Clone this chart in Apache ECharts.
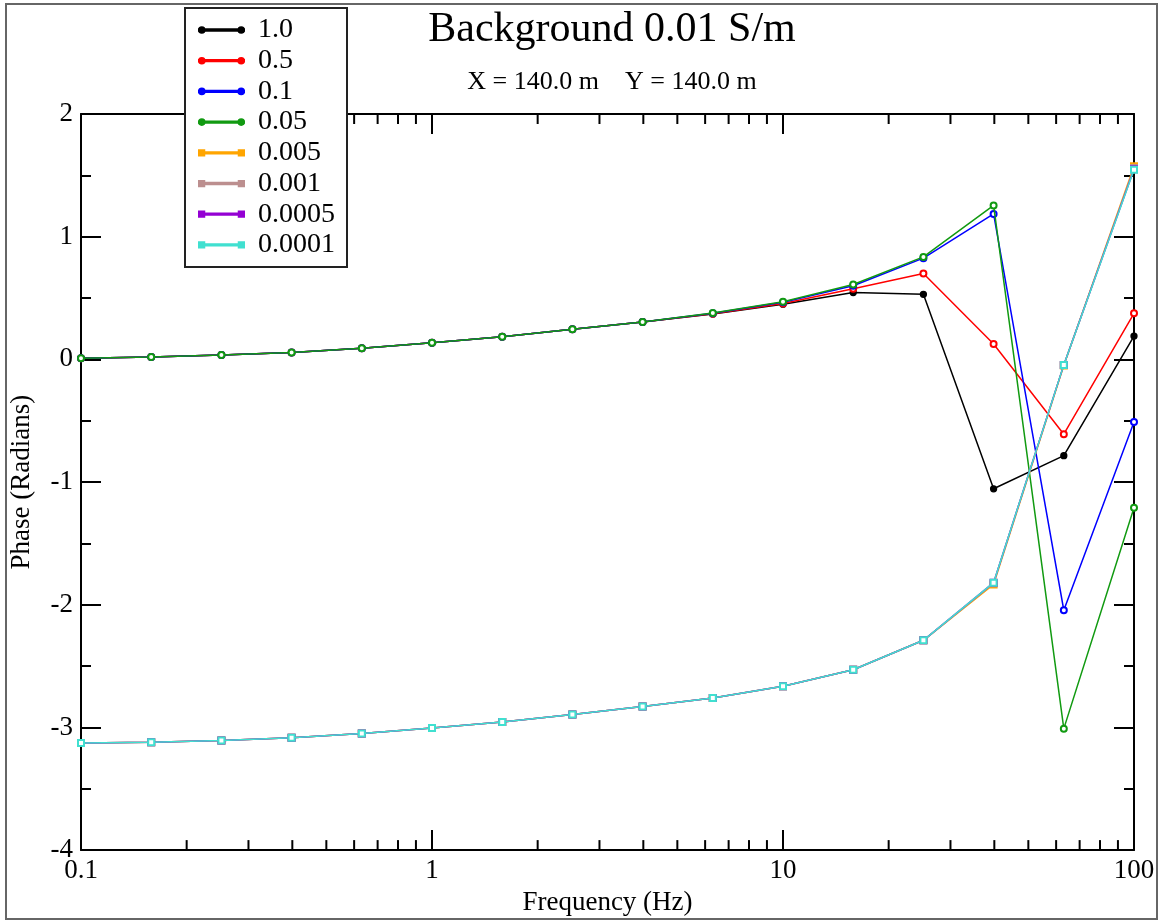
<!DOCTYPE html>
<html>
<head>
<meta charset="utf-8">
<script src="https://cdn.jsdelivr.net/npm/echarts@6/dist/echarts.min.js"></script>
<style>
  html, body { margin: 0; padding: 0; background: #fff; }
  #chart { width: 1167px; height: 921px; }
</style>
</head>
<body>
<div id="chart"></div>
<script>
// Frequencies (Hz), five points per decade
const freqs = [0.1, 0.1585, 0.2512, 0.3981, 0.631, 1, 1.585, 2.512, 3.981, 6.31, 10, 15.85, 25.12, 39.81, 63.1, 100];

// Phase (radians) for each conductivity contrast
const phase_1_0    = [0.01, 0.02, 0.035, 0.055, 0.09, 0.135, 0.185, 0.245, 0.305, 0.37, 0.45, 0.545, 0.53, -1.055, -0.785, 0.19];
const phase_0_5    = [0.01, 0.02, 0.035, 0.055, 0.09, 0.135, 0.185, 0.245, 0.305, 0.372, 0.455, 0.575, 0.70, 0.125, -0.61, 0.375];
const phase_0_1    = [0.01, 0.02, 0.035, 0.055, 0.09, 0.135, 0.185, 0.245, 0.305, 0.375, 0.465, 0.60, 0.825, 1.185, -2.045, -0.51];
const phase_0_05   = [0.01, 0.02, 0.035, 0.055, 0.09, 0.135, 0.185, 0.245, 0.305, 0.377, 0.47, 0.61, 0.835, 1.255, -3.01, -1.21];
const phase_0_005  = [-3.128, -3.12, -3.106, -3.084, -3.05, -3.005, -2.955, -2.895, -2.83, -2.76, -2.665, -2.53, -2.29, -1.835, -0.05, 1.575];
const phase_0_001  = [-3.128, -3.12, -3.106, -3.084, -3.05, -3.005, -2.955, -2.895, -2.83, -2.76, -2.665, -2.53, -2.29, -1.825, -0.045, 1.56];
const phase_0_0005 = [-3.128, -3.12, -3.106, -3.084, -3.05, -3.005, -2.955, -2.895, -2.83, -2.76, -2.665, -2.53, -2.29, -1.82, -0.045, 1.55];
const phase_0_0001 = [-3.128, -3.12, -3.106, -3.084, -3.05, -3.005, -2.955, -2.895, -2.83, -2.76, -2.665, -2.53, -2.29, -1.82, -0.045, 1.545];

const seriesNames  = ['1.0', '0.5', '0.1', '0.05', '0.005', '0.001', '0.0005', '0.0001'];
const seriesValues = [phase_1_0, phase_0_5, phase_0_1, phase_0_05, phase_0_005, phase_0_001, phase_0_0005, phase_0_0001];
const seriesColors = ['#000000', '#ff0000', '#0000ff', '#119a11', '#ffa500', '#bc8f8f', '#9400d3', '#40e0d0'];
const seriesSymbols = ['circle', 'emptyCircle', 'emptyCircle', 'emptyCircle', 'emptyRect', 'emptyRect', 'emptyRect', 'emptyRect'];

// Minor tick positions on the log frequency axis (2..9 in each decade)
const minorFreqs = [];
[0.1, 1, 10].forEach(d => { for (let k = 2; k <= 9; k++) minorFreqs.push(+(d * k).toFixed(4)); });

const FONT = 'Liberation Serif';

// Legend icons: a line with a marker at each end
const circleIcon = 'path://M0,3.3h48v1.4H0z M0,4a3,3 0 1,0 6,0a3,3 0 1,0 -6,0z M42,4a3,3 0 1,0 6,0a3,3 0 1,0 -6,0z';
const squareIcon = 'path://M0,3.3h48v1.4H0z M0,1.2h5.6v5.6H0z M42.4,1.2h5.6v5.6h-5.6z';

const chart = echarts.init(document.getElementById('chart'), null, { renderer: 'canvas' });

const lineSeries = seriesNames.map((name, i) => ({
  name: name,
  type: 'line',
  xAxisIndex: 0,
  yAxisIndex: 0,
  data: freqs.map((f, j) => [f, seriesValues[i][j]]),
  symbol: seriesSymbols[i],
  symbolSize: 6,
  showAllSymbol: true,
  color: seriesColors[i],
  lineStyle: { width: 1.5, color: seriesColors[i] },
  itemStyle: { color: seriesColors[i], borderColor: seriesColors[i], borderWidth: 1.3 },
  z: 3 + i * 0.01,
  animation: false
}));

// Minor ticks drawn inward on the bottom and top frame
const minorTickSeries = {
  type: 'custom',
  xAxisIndex: 0,
  yAxisIndex: 0,
  silent: true,
  animation: false,
  z: 5,
  data: minorFreqs.map(f => [f]),
  renderItem: function (params, api) {
    const f = api.value(0);
    const bottom = api.coord([f, -4]);
    const top = api.coord([f, 2]);
    const style = { stroke: '#000', lineWidth: 2 };
    return {
      type: 'group',
      children: [
        { type: 'line', shape: { x1: bottom[0], y1: bottom[1], x2: bottom[0], y2: bottom[1] - 10 }, style: style },
        { type: 'line', shape: { x1: top[0], y1: top[1], x2: top[0], y2: top[1] + 10 }, style: style }
      ]
    };
  }
};

const axisLine = { show: true, onZero: false, lineStyle: { color: '#000', width: 2 } };

const option = {
  backgroundColor: '#ffffff',
  animation: false,
  title: {
    text: 'Background 0.01 S/m',
    subtext: 'X = 140.0 m    Y = 140.0 m',
    left: 607,
    top: 4,
    textAlign: 'center',
    itemGap: 18,
    textStyle: { fontFamily: FONT, fontSize: 42, fontWeight: 'normal', color: '#000' },
    subtextStyle: { fontFamily: FONT, fontSize: 26, color: '#000' }
  },
  legend: {
    orient: 'vertical',
    left: 185,
    top: 8,
    padding: [8, 12, 8, 13],
    itemWidth: 45,
    itemHeight: 8,
    itemGap: 2.7,
    backgroundColor: '#fff',
    borderColor: '#222',
    borderWidth: 2,
    borderRadius: 0,
    selectedMode: false,
    textStyle: { fontFamily: FONT, fontSize: 28, color: '#000', lineHeight: 28, padding: [0, 0, 0, 9] },
    data: seriesNames.map((n, i) => ({ name: n, icon: i < 4 ? circleIcon : squareIcon })),
    z: 10
  },
  grid: { left: 80, right: 33, top: 114, bottom: 70, containLabel: false },
  xAxis: [
    {
      type: 'log',
      logBase: 10,
      min: 0.1,
      max: 100,
      position: 'bottom',
      name: 'Frequency (Hz)',
      nameLocation: 'middle',
      nameGap: 38,
      nameTextStyle: { fontFamily: FONT, fontSize: 27, color: '#000' },
      axisLine: axisLine,
      axisTick: { show: true, inside: true, length: 20, lineStyle: { color: '#000', width: 2 } },
      axisLabel: { fontFamily: FONT, fontSize: 27, color: '#000', margin: 7 },
      splitLine: { show: false }
    },
    {
      type: 'log',
      logBase: 10,
      min: 0.1,
      max: 100,
      position: 'top',
      axisLine: axisLine,
      axisTick: { show: true, inside: true, length: 20, lineStyle: { color: '#000', width: 2 } },
      axisLabel: { show: false },
      splitLine: { show: false }
    }
  ],
  yAxis: [
    {
      type: 'value',
      min: -4,
      max: 2,
      interval: 1,
      position: 'left',
      name: 'Phase (Radians)',
      nameLocation: 'middle',
      nameGap: 46,
      nameTextStyle: { fontFamily: FONT, fontSize: 27, color: '#000' },
      axisLine: axisLine,
      axisTick: { show: true, inside: true, length: 20, lineStyle: { color: '#000', width: 2 } },
      minorTick: { show: true, splitNumber: 2, length: 10, lineStyle: { color: '#000', width: 2 } },
      axisLabel: { fontFamily: FONT, fontSize: 27, color: '#000', margin: 8 },
      splitLine: { show: false }
    },
    {
      type: 'value',
      min: -4,
      max: 2,
      interval: 1,
      position: 'right',
      axisLine: axisLine,
      axisTick: { show: true, inside: true, length: 20, lineStyle: { color: '#000', width: 2 } },
      minorTick: { show: true, splitNumber: 2, length: 10, lineStyle: { color: '#000', width: 2 } },
      axisLabel: { show: false },
      splitLine: { show: false }
    }
  ],
  graphic: [
    {
      type: 'rect',
      shape: { x: 6, y: 4, width: 1151, height: 915 },
      style: { fill: 'none', stroke: '#666', lineWidth: 2 },
      silent: true,
      z: -1
    }
  ],
  series: lineSeries.concat([minorTickSeries])
};

chart.setOption(option);
</script>
</body>
</html>
